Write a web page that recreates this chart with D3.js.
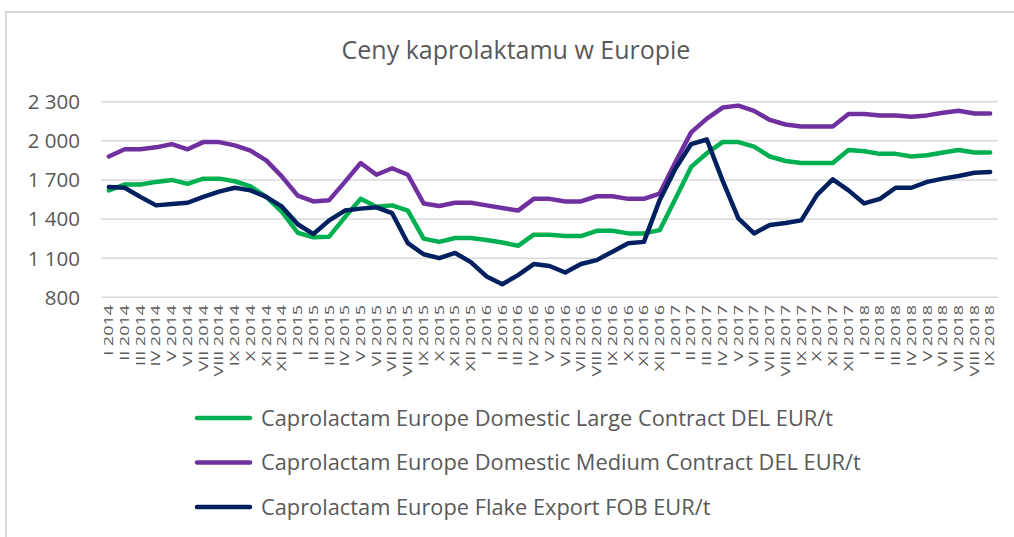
<!DOCTYPE html>
<html>
  <head>
    <meta charset="UTF-8">
    <title>Ceny kaprolaktamu w Europie</title>
    <script src="https://d3js.org/d3.v7.min.js"></script>
    <style>
      body { margin: 0; background: #fff; }
      text { font-family: "Open Sans", "Noto Sans", sans-serif; fill: #595959; }
    </style>
  </head>
  <body>
    <svg id="chart" width="1014" height="537"></svg>
    <script>
      // month labels (roman numerals) and years
      const months = ["I", "II", "III", "IV", "V", "VI", "VII", "VIII", "IX", "X", "XI", "XII"];
      const years = [2014, 2015, 2016, 2017, 2018];
      const categories = [];
      years.forEach(y => months.forEach((m, i) => {
        if (y < 2018 || i < 9) categories.push(m + " " + y);
      }));

      const yTicks = [800, 1100, 1400, 1700, 2000, 2300];

      const largeContract = [1620, 1665, 1665, 1685, 1700, 1670, 1710, 1710, 1690, 1650,
        1570, 1455, 1295, 1260, 1265, 1415, 1555, 1495, 1505, 1465,
        1250, 1225, 1255, 1255, 1240, 1220, 1195, 1280, 1280, 1270,
        1270, 1310, 1310, 1290, 1290, 1315, 1555, 1800, 1905, 1990,
        1990, 1955, 1880, 1845, 1830, 1830, 1830, 1930, 1920, 1900,
        1900, 1880, 1890, 1910, 1930, 1910, 1910];
      const mediumContract = [1880, 1935, 1935, 1950, 1975, 1935, 1990, 1990, 1965, 1925,
        1850, 1725, 1580, 1535, 1545, 1685, 1830, 1740, 1790, 1740,
        1520, 1500, 1525, 1525, 1505, 1485, 1465, 1555, 1555, 1535,
        1535, 1575, 1575, 1555, 1555, 1595, 1835, 2065, 2170, 2255,
        2270, 2230, 2160, 2125, 2110, 2110, 2110, 2205, 2205, 2195,
        2195, 2185, 2195, 2215, 2230, 2210, 2210];
      const flakeExport = [1645, 1640, 1570, 1505, 1515, 1525, 1570, 1610, 1640, 1620,
        1570, 1495, 1360, 1285, 1390, 1465, 1480, 1490, 1445, 1215,
        1130, 1100, 1140, 1070, 960, 900, 970, 1055, 1040, 990,
        1055, 1085, 1150, 1215, 1225, 1545, 1785, 1975, 2010, 1695,
        1405, 1290, 1355, 1370, 1390, 1585, 1705, 1620, 1520, 1555,
        1640, 1640, 1685, 1710, 1730, 1755, 1760];

      const seriesNames = [
        "Caprolactam Europe Domestic Large Contract DEL EUR/t",
        "Caprolactam Europe Domestic Medium Contract DEL EUR/t",
        "Caprolactam Europe Flake Export FOB EUR/t"
      ];
      const seriesColors = ["#00b050", "#7030a0", "#002060"];
      const seriesValues = [largeContract, mediumContract, flakeExport];

      const svg = d3.select("#chart");

      // outer frame
      svg.append("rect")
        .attr("x", 6).attr("y", 12)
        .attr("width", 1020).attr("height", 540)
        .attr("fill", "none")
        .attr("stroke", "#d9d9d9")
        .attr("stroke-width", 2);

      // title
      svg.append("text")
        .attr("x", 516).attr("y", 59)
        .attr("text-anchor", "middle")
        .attr("font-size", 25)
        .text("Ceny kaprolaktamu w Europie");

      const x = d3.scalePoint()
        .domain(categories)
        .range([101, 998])
        .padding(0.5);

      const y = d3.scaleLinear()
        .domain([800, 2300])
        .range([297.3, 101.7]);

      // gridlines
      svg.append("g")
        .selectAll("line")
        .data(yTicks)
        .join("line")
        .attr("x1", 101).attr("x2", 998)
        .attr("y1", d => y(d)).attr("y2", d => y(d))
        .attr("stroke", "#d9d9d9")
        .attr("stroke-width", 1.5);

      // y labels
      const fmt = d3.formatLocale({ decimal: ",", thousands: " ", grouping: [3], currency: ["", ""] }).format(",d");
      svg.append("g")
        .selectAll("text")
        .data(yTicks)
        .join("text")
        .attr("x", 80)
        .attr("y", d => y(d))
        .attr("dy", "0.36em")
        .attr("text-anchor", "end")
        .attr("font-size", 20.5)
        .text(d => fmt(d));

      // x labels, rotated
      svg.append("g")
        .selectAll("text")
        .data(categories)
        .join("text")
        .attr("transform", d => `translate(${x(d)},305) rotate(-90) scale(1.5,1)`)
        .attr("dy", "0.36em")
        .attr("text-anchor", "end")
        .attr("font-size", 12)
        .text(d => d);

      // series lines
      const line = d3.line()
        .x((d, i) => x(categories[i]))
        .y(d => y(d));

      svg.append("g")
        .selectAll("path")
        .data(seriesValues)
        .join("path")
        .attr("d", d => line(d))
        .attr("fill", "none")
        .attr("stroke", (d, i) => seriesColors[i])
        .attr("stroke-width", 4.5)
        .attr("stroke-linejoin", "round")
        .attr("stroke-linecap", "round");

      // legend
      const legend = svg.append("g")
        .selectAll("g")
        .data(seriesNames)
        .join("g")
        .attr("transform", (d, i) => `translate(0,${418 + i * 44.5})`);

      legend.append("line")
        .attr("x1", 197).attr("x2", 250)
        .attr("stroke", (d, i) => seriesColors[i])
        .attr("stroke-width", 4.5)
        .attr("stroke-linecap", "round");

      legend.append("text")
        .attr("x", 261)
        .attr("dy", "0.36em")
        .attr("font-size", 21.8)
        .text(d => d);
    </script>
  </body>
</html>
